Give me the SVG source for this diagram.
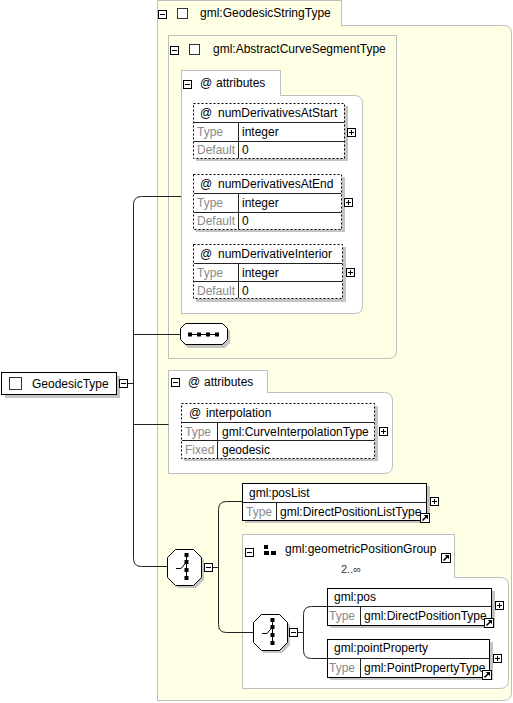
<svg xmlns="http://www.w3.org/2000/svg" xmlns:xlink="http://www.w3.org/1999/xlink" width="513" height="703" viewBox="0 0 513 703">
<style>
text{font-family:"Liberation Sans",Arial,sans-serif;font-size:12px;fill:#000}
.lbl{fill:#8a8a8a}
.panel{fill:#FFFFE6;stroke:#BDBDBD;stroke-width:1}
.wpanel{fill:#fff;stroke:#BDBDBD;stroke-width:1}
.shadow{fill:#C4C4C4;stroke:none}
.box{fill:#fff;stroke:#000;stroke-width:1}
.dbox{fill:#fff;stroke:#000;stroke-width:1;stroke-dasharray:2,2}
.row{stroke:#222;stroke-width:1;fill:none}
.conn{stroke:#222;stroke-width:1;fill:none}
.chk{fill:#fff;stroke:#333;stroke-width:1}
</style>
<defs>
<g id="minus"><rect x="0.5" y="0.5" width="8" height="8" fill="#fff" stroke="#000"/><path d="M2,4.5 H7" stroke="#000"/></g>
<g id="plus"><rect x="0.5" y="0.5" width="8" height="8" fill="#fff" stroke="#000"/><path d="M2,4.5 H7 M4.5,2 V7" stroke="#000"/></g>
<g id="link"><rect x="0.5" y="0.5" width="9" height="9" fill="#fff" stroke="#000"/><path d="M2.5,7.5 L7,3" stroke="#000" stroke-width="1.6"/><path d="M3.8,2 H8 V6.2 Z" fill="#000"/></g>
<g id="choice">
<path d="M11,3 H29 L37,11 V31 L29,39 H11 L3,31 V11 Z" class="shadow"/>
<path d="M8.5,0.5 H26.5 L34.5,8.5 V28.5 L26.5,36.5 H8.5 L0.5,28.5 V8.5 Z" fill="#fff" stroke="#000"/>
<path d="M19.5,5 V30" stroke="#000"/>
<rect x="17.5" y="4" width="4" height="4" fill="#000"/>
<rect x="17.5" y="11" width="4" height="4" fill="#000"/>
<rect x="17.5" y="19" width="4" height="4" fill="#000"/>
<rect x="17.5" y="27" width="4" height="4" fill="#000"/>
<path d="M9,19.5 H14 L19.5,13" stroke="#000" fill="none"/>
</g>
</defs>

<g id="GeodesicStringType">
<path class="panel" d="M157.5,0.5 H341.5 V25.5 H503.5 Q511.5,25.5 511.5,33.5 V692.5 Q511.5,700.5 503.5,700.5 H157.5 Z"/>
<use xlink:href="#minus" x="158" y="10"/>
<rect class="chk" x="177.5" y="8.5" width="10" height="10"/>
<text x="200" y="17">gml:GeodesicStringType</text>
</g>

<g id="AbstractCurveSegmentType">
<path class="panel" d="M168.5,35.5 H396.5 V350.5 Q396.5,358.5 388.5,358.5 H168.5 Z"/>
<use xlink:href="#minus" x="170" y="46"/>
<rect class="chk" x="189.5" y="44.5" width="10" height="10"/>
<text x="213" y="53">gml:AbstractCurveSegmentType</text>
</g>

<g id="attributes1">
<path class="wpanel" d="M181.5,70.5 H280.5 V95.5 H354.5 Q362.5,95.5 362.5,103.5 V305.5 Q362.5,313.5 354.5,313.5 H181.5 Z"/>
<use xlink:href="#minus" x="183" y="80"/>
<text x="200" y="87">@</text>
<text x="216" y="87">attributes</text>
</g>

<g id="numDerivativesAtStart">
<rect class="shadow" x="196" y="106" width="152" height="55"/>
<rect class="dbox" x="193.5" y="103.5" width="151" height="55"/>
<path class="row" d="M194,122.5 H344 M194,141.5 H344 M238.5,122.5 V158"/>
<text x="200" y="117">@</text>
<text x="218" y="117">numDerivativesAtStart</text>
<text class="lbl" x="197" y="136">Type</text>
<text x="242" y="136">integer</text>
<text class="lbl" x="197" y="154">Default</text>
<text x="242" y="154">0</text>
<use xlink:href="#plus" x="347" y="128"/>
</g>

<g id="numDerivativesAtEnd">
<rect class="shadow" x="196" y="177" width="149" height="55"/>
<rect class="dbox" x="193.5" y="174.5" width="148" height="55"/>
<path class="row" d="M194,193.5 H341 M194,212.5 H341 M238.5,193.5 V229"/>
<text x="200" y="188">@</text>
<text x="218" y="188">numDerivativesAtEnd</text>
<text class="lbl" x="197" y="207">Type</text>
<text x="242" y="207">integer</text>
<text class="lbl" x="197" y="225">Default</text>
<text x="242" y="225">0</text>
<use xlink:href="#plus" x="344" y="198"/>
</g>

<g id="numDerivativeInterior">
<rect class="shadow" x="196" y="247" width="150" height="55"/>
<rect class="dbox" x="193.5" y="244.5" width="149" height="54"/>
<path class="row" d="M194,263.5 H342 M194,281.5 H342 M238.5,263.5 V298"/>
<text x="200" y="258">@</text>
<text x="218" y="258">numDerivativeInterior</text>
<text class="lbl" x="197" y="277">Type</text>
<text x="242" y="277">integer</text>
<text class="lbl" x="197" y="295">Default</text>
<text x="242" y="295">0</text>
<use xlink:href="#plus" x="346" y="268"/>
</g>

<g id="sequence1">
<path class="shadow" d="M188,326 H225 L230,331 V343 L225,348 H188 L183,343 V331 Z"/>
<path d="M185.5,323.5 H222.5 L227.5,328.5 V339.5 L222.5,344.5 H185.5 L180.5,339.5 V328.5 Z" fill="#fff" stroke="#000"/>
<path d="M188,334.5 H219" stroke="#000"/>
<rect x="188" y="332.5" width="4" height="4" fill="#000"/>
<rect x="197" y="332.5" width="4" height="4" fill="#000"/>
<rect x="206" y="332.5" width="4" height="4" fill="#000"/>
<rect x="215" y="332.5" width="4" height="4" fill="#000"/>
</g>

<g id="GeodesicType">
<rect class="shadow" x="5" y="376" width="115" height="22"/>
<rect class="box" x="1.5" y="372.5" width="115" height="22"/>
<rect class="chk" x="9.5" y="377.5" width="12" height="12"/>
<text x="32" y="388">GeodesicType</text>
<use xlink:href="#minus" x="119" y="379"/>
</g>

<g id="attributes2">
<path class="wpanel" d="M168.5,370.5 H267.5 V392.5 H384.5 Q392.5,392.5 392.5,400.5 V465.5 Q392.5,473.5 384.5,473.5 H168.5 Z"/>
<use xlink:href="#minus" x="171" y="378"/>
<text x="188" y="386">@</text>
<text x="204" y="386">attributes</text>
</g>

<g id="interpolation">
<rect class="shadow" x="184" y="406" width="194" height="55"/>
<rect class="dbox" x="181.5" y="403.5" width="193" height="55"/>
<path class="row" d="M182,422.5 H374 M182,440.5 H374 M217.5,422.5 V458"/>
<text x="189" y="417">@</text>
<text x="206" y="417">interpolation</text>
<text class="lbl" x="185" y="436">Type</text>
<text x="222" y="436">gml:CurveInterpolationType</text>
<text class="lbl" x="185" y="454">Fixed</text>
<text x="222" y="454">geodesic</text>
<use xlink:href="#plus" x="379" y="427"/>
</g>

<g id="choice1">
<use xlink:href="#choice" x="167" y="549"/>
<use xlink:href="#minus" x="204" y="563"/>
</g>

<g id="posList">
<rect class="shadow" x="245" y="486" width="185" height="37"/>
<rect class="box" x="242.5" y="483.5" width="184" height="37"/>
<path class="row" d="M243,502.5 H426 M276.5,502.5 V520"/>
<text x="249" y="497">gml:posList</text>
<text class="lbl" x="246" y="516">Type</text>
<text x="280" y="516">gml:DirectPositionListType</text>
<use xlink:href="#link" x="420" y="513"/>
<use xlink:href="#plus" x="430" y="497"/>
</g>

<g id="geometricPositionGroup">
<path class="wpanel" d="M242.5,534.5 H454.5 V577.5 H500.5 Q508.5,577.5 508.5,585.5 V680.5 Q508.5,688.5 500.5,688.5 H242.5 Z"/>
<use xlink:href="#minus" x="245" y="548"/>
<rect x="264" y="545" width="4" height="4" fill="#000"/>
<rect x="264" y="551" width="5" height="4" fill="#000"/>
<rect x="271" y="551" width="5" height="4" fill="#000"/>
<text x="285" y="553">gml:geometricPositionGroup</text>
<use xlink:href="#link" x="441" y="553"/>
<text x="341" y="573" style="font-size:11px;fill:#333">2..∞</text>
</g>

<g id="choice2">
<use xlink:href="#choice" x="253" y="614"/>
<use xlink:href="#minus" x="289" y="628"/>
</g>

<g id="pos">
<rect class="shadow" x="330" y="591" width="165" height="37"/>
<rect class="box" x="327.5" y="588.5" width="164" height="37"/>
<path class="row" d="M328,606.5 H491 M360.5,606.5 V625"/>
<text x="334" y="601">gml:pos</text>
<text class="lbl" x="329" y="620">Type</text>
<text x="364" y="620">gml:DirectPositionType</text>
<use xlink:href="#link" x="484" y="618"/>
<use xlink:href="#plus" x="495" y="601"/>
</g>

<g id="pointProperty">
<rect class="shadow" x="330" y="642" width="163" height="38"/>
<rect class="box" x="327.5" y="639.5" width="162" height="38"/>
<path class="row" d="M328,658.5 H489 M360.5,658.5 V677"/>
<text x="334" y="652">gml:pointProperty</text>
<text class="lbl" x="329" y="672">Type</text>
<text x="364" y="672">gml:PointPropertyType</text>
<use xlink:href="#link" x="482" y="670"/>
<use xlink:href="#plus" x="493" y="654"/>
</g>

<g id="connectors">
<path class="conn" d="M181,196.5 H141.5 Q133.5,196.5 133.5,204.5 V558.5 Q133.5,566.5 141.5,566.5 H167"/>
<path class="conn" d="M128,383.5 H133.5"/>
<path class="conn" d="M133.5,334.5 H180.5"/>
<path class="conn" d="M133.5,424.5 H168.5"/>
<path class="conn" d="M213,567.5 H218.5"/>
<path class="conn" d="M242.5,501.5 H226.5 Q218.5,501.5 218.5,509.5 V624.5 Q218.5,632.5 226.5,632.5 H253"/>
<path class="conn" d="M298,632.5 H303.5"/>
<path class="conn" d="M327.5,606.5 H311.5 Q303.5,606.5 303.5,614.5 V650.5 Q303.5,658.5 311.5,658.5 H327.5"/>
</g>
</svg>
